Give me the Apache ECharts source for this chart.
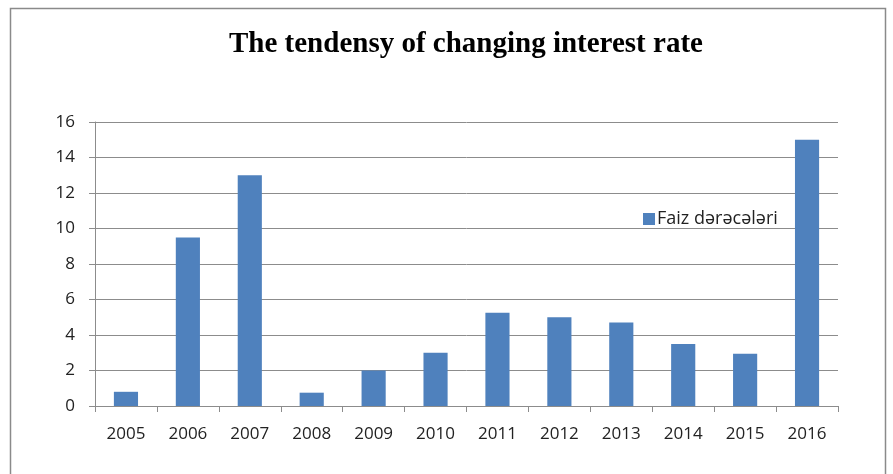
<!DOCTYPE html>
<html><head><meta charset="utf-8">
<script src="https://cdn.jsdelivr.net/npm/echarts@6/dist/echarts.min.js"></script>
<style>html,body{margin:0;padding:0;background:#fff}#c{width:893px;height:474px}</style>
</head><body><div id="c"></div>
<script>
const years = ['2005','2006','2007','2008','2009','2010','2011','2012','2013','2014','2015','2016'];
const rates = [0.8, 9.5, 13, 0.75, 2, 3, 5.25, 5, 4.7, 3.5, 2.95, 15];
const yTicks = [0, 2, 4, 6, 8, 10, 12, 14, 16];
const seriesName = 'Faiz dərəcələri';
const titleText = 'The tendensy of changing interest rate';

const chart = echarts.init(document.getElementById('c'));
chart.setOption({
  animation: false,
  backgroundColor: '#fff',
  graphic: [{
    type: 'rect', shape: {x: 10.5, y: 8.5, width: 875, height: 480},
    style: {fill: 'none', stroke: '#8a8a8a', lineWidth: 1.5}, silent: true
  }],
  title: {
    text: titleText, left: 224, top: 25,
    textStyle: {fontFamily: 'Liberation Serif', fontWeight: 'bold', fontSize: 29, color: '#000'}
  },
  legend: {
    data: [seriesName], left: 638, top: 205, itemWidth: 12, itemHeight: 12, itemGap: 4,
    icon: 'rect',
    textStyle: {fontFamily: 'Open Sans', fontSize: 18, color: '#222', padding: [0,0,0,-3]}
  },
  grid: {left: 95, right: 55, top: 122, bottom: 68},
  xAxis: {
    type: 'category', data: years,
    axisLine: {lineStyle: {color: '#8c8c8c', width: 1}},
    axisTick: {show: true, length: 6, lineStyle: {color: '#8c8c8c'}},
    axisLabel: {fontFamily: 'Open Sans', fontSize: 17, color: '#222', margin: 20}
  },
  yAxis: {
    type: 'value', min: yTicks[0], max: yTicks[yTicks.length-1], interval: 2,
    axisLine: {show: true, lineStyle: {color: '#8c8c8c'}},
    axisTick: {show: true, length: 6, lineStyle: {color: '#8c8c8c'}},
    splitLine: {lineStyle: {color: '#8c8c8c'}},
    axisLabel: {fontFamily: 'Open Sans', fontSize: 17, color: '#222', margin: 20}
  },
  series: [{
    name: seriesName, type: 'bar', data: rates, barWidth: '39%',
    itemStyle: {color: '#4F81BD'}
  }]
});
</script></body></html>
